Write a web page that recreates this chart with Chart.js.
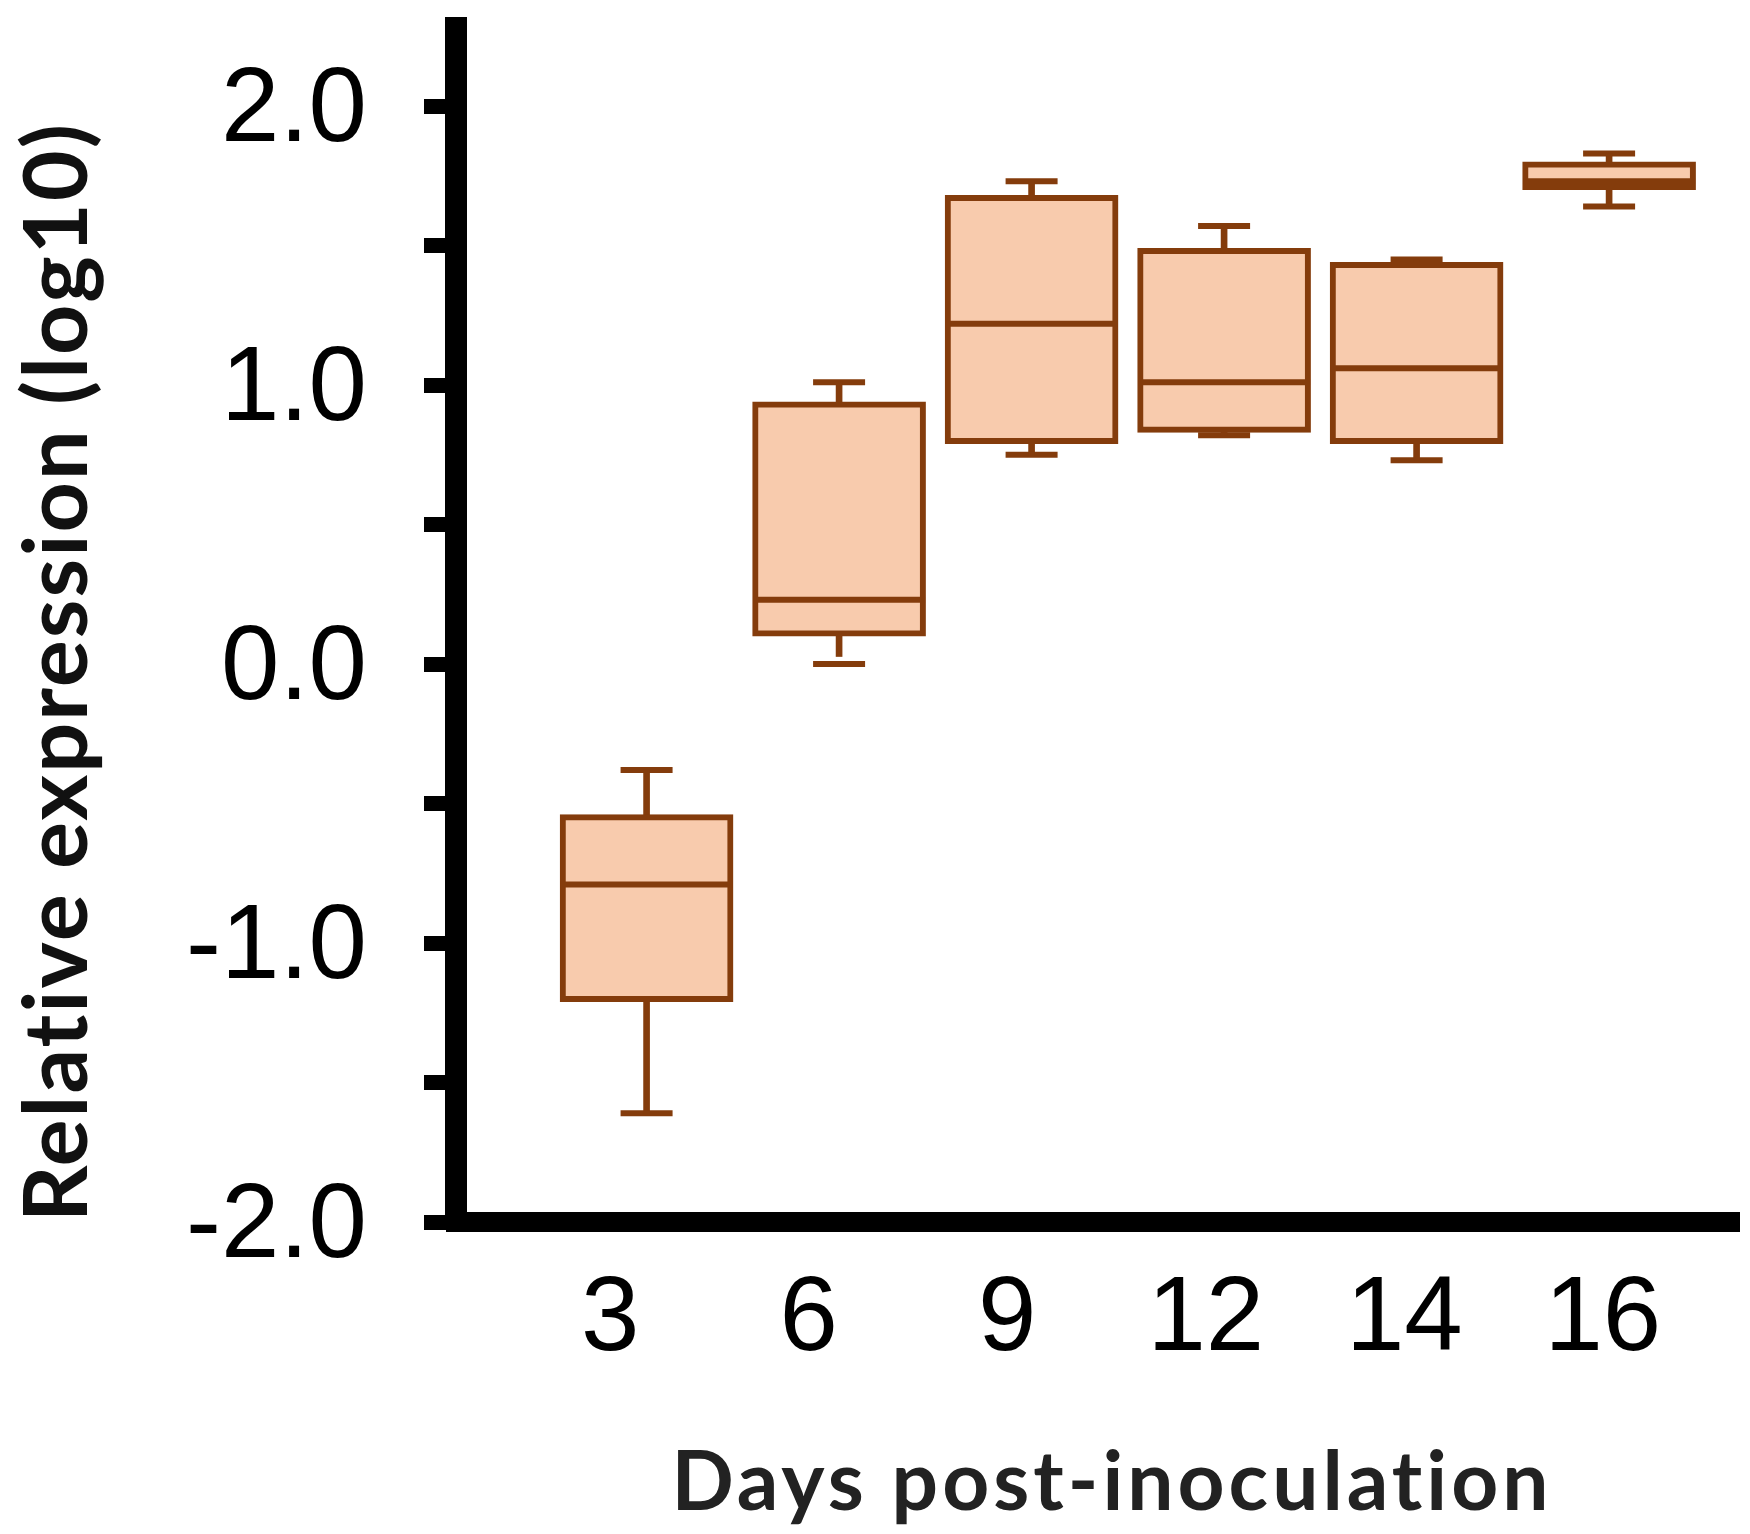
<!DOCTYPE html>
<html>
<head>
<meta charset="utf-8">
<script src="https://cdn.jsdelivr.net/npm/chart.js@4.4.1/dist/chart.umd.min.js"></script>
<style>
  html, body { margin: 0; padding: 0; background: #fff; }
  #wrap { width: 1750px; height: 1534px; }
</style>
</head>
<body>
<div id="wrap"><canvas id="chart"></canvas></div>
<script>
// データ
const days = ["3", "6", "9", "12", "14", "16"];
const mins = [-1.61, 0.00, 0.75, 0.82, 0.73, 1.64];
const q1s = [-1.21, 0.10, 0.79, 0.83, 0.79, 1.70];
const medians = [-0.79, 0.23, 1.22, 1.01, 1.06, 1.73];
const q3s = [-0.54, 0.94, 1.68, 1.49, 1.44, 1.80];
const maxs = [-0.38, 1.01, 1.73, 1.57, 1.45, 1.83];
const yTicks = [-2, -1.5, -1, -0.5, 0, 0.5, 1, 1.5, 2];

const xTitle = "Days post-inoculation";
const yTitle = "Relative expression (log10)";

const fillColor = "#F8CBAD";
const edgeColor = "#843C0C";

const idx = days.map((d, i) => i);

// 箱ひげ用のデータを組み立てる
const boxData = idx.map((i) => ({ x: i, y: [q1s[i], q3s[i]] }));
const upperWhisker = idx.map((i) => ({ x: i, y: [q3s[i], maxs[i]] }));
const lowerWhisker = idx.map((i) => ({ x: i, y: [mins[i], q1s[i]] }));
const capPoints = idx
  .map((i) => ({ x: i, y: maxs[i] }))
  .concat(idx.map((i) => ({ x: i, y: mins[i] })));
const medianPoints = idx.map((i) => ({ x: i, y: medians[i] }));

// 軸タイトルを描くプラグイン
const titlePlugin = {
  id: "axisTitles",
  afterDraw(chart) {
    const { ctx } = chart;
    ctx.save();
    ctx.fillStyle = "#222";
    ctx.textAlign = "center";
    ctx.textBaseline = "alphabetic";
    ctx.font = "bold 82px Lato";
    ctx.letterSpacing = "4px";
    ctx.fillText(xTitle, 1112, 1510);

    ctx.fillStyle = "#111";
    ctx.translate(56, 672);
    ctx.rotate(-Math.PI / 2);
    ctx.font = "bold 88px Lato";
    ctx.letterSpacing = "2px";
    ctx.fillText(yTitle, 0, 31);
    ctx.restore();
  },
};

function noPadding(scale) {
  scale.paddingTop = 0;
  scale.paddingBottom = 0;
  scale.paddingLeft = 0;
  scale.paddingRight = 0;
}

new Chart(document.getElementById("chart"), {
  type: "bar",
  data: {
    datasets: [
      {
        type: "scatter",
        label: "median",
        data: medianPoints,
        pointStyle: "line",
        pointRadius: 86,
        pointHoverRadius: 86,
        borderColor: edgeColor,
        pointBorderWidth: 6,
        order: 0,
      },
      {
        label: "box",
        data: boxData,
        backgroundColor: fillColor,
        borderColor: edgeColor,
        borderWidth: 6,
        borderSkipped: false,
        barThickness: 173,
        grouped: false,
        order: 1,
      },
      {
        label: "upper",
        data: upperWhisker,
        backgroundColor: edgeColor,
        borderWidth: 0,
        barThickness: 6,
        grouped: false,
        order: 2,
      },
      {
        label: "lower",
        data: lowerWhisker,
        backgroundColor: edgeColor,
        borderWidth: 0,
        barThickness: 6,
        grouped: false,
        order: 2,
      },
      {
        type: "scatter",
        label: "caps",
        data: capPoints,
        pointStyle: "line",
        pointRadius: 26,
        pointHoverRadius: 26,
        borderColor: edgeColor,
        pointBorderWidth: 6,
        order: 2,
      },
    ],
  },
  options: {
    responsive: true,
    maintainAspectRatio: false,
    devicePixelRatio: 1,
    animation: false,
    events: [],
    layout: {
      autoPadding: false,
      padding: { top: 28, right: 10, left: 0, bottom: 0 },
    },
    plugins: {
      legend: { display: false },
      tooltip: { enabled: false },
    },
    scales: {
      x: {
        type: "linear",
        display: false,
        offset: false,
        min: -0.99,
        max: 5.68,
      },
      xl: {
        type: "linear",
        position: "bottom",
        offset: false,
        min: -0.777,
        max: 5.691,
        afterBuildTicks(scale) {
          scale.ticks = idx.map((i) => ({ value: i }));
        },
        afterFit(scale) {
          scale.height = 312;
          noPadding(scale);
        },
        border: { display: true, color: "#000", width: 20 },
        grid: { display: false, drawTicks: false, lineWidth: 0 },
        ticks: {
          padding: 36,
          color: "#000",
          font: { family: "'Liberation Sans', Arial, sans-serif", size: 105 },
          maxRotation: 0,
          autoSkip: false,
          callback: (v) => days[v],
        },
      },
      y: {
        type: "linear",
        min: -2,
        max: 2.2796,
        afterBuildTicks(scale) {
          scale.ticks = yTicks.map((v) => ({ value: v }));
        },
        afterFit(scale) {
          scale.width = 456;
          noPadding(scale);
        },
        border: { display: true, color: "#000", width: 22 },
        grid: {
          drawOnChartArea: false,
          drawTicks: true,
          tickLength: 32,
          lineWidth: 15,
          color: "#000",
        },
        ticks: {
          padding: 57,
          labelOffset: 6,
          color: "#000",
          font: { family: "'Liberation Sans', Arial, sans-serif", size: 105 },
          autoSkip: false,
          callback: (v) => (Number.isInteger(v) ? v.toFixed(1) : ""),
        },
      },
    },
  },
  plugins: [titlePlugin],
});
</script>
</body>
</html>
